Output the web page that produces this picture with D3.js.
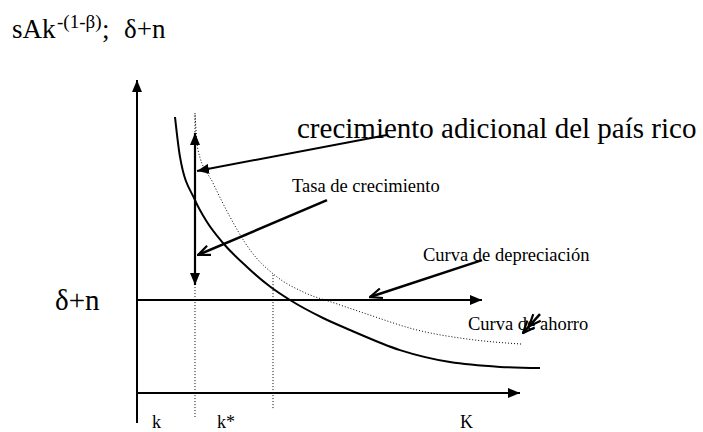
<!DOCTYPE html>
<html>
<head>
<meta charset="utf-8">
<script src="https://cdn.jsdelivr.net/npm/d3@7"></script>
<style>
  body { margin: 0; background: #fff; }
  svg, text, tspan { font-family: "Liberation Serif", "Times New Roman", "DejaVu Serif", serif; fill: #000; }
</style>
</head>
<body>
<svg width="703" height="432"></svg>
<script>
// savings curve sAk^-(1-b) of the poor country (solid)
let savingsK = [9.5, 10.75, 14.5, 17.5, 21.5, 27.5, 33.25, 38.25, 46.5, 53.25, 65.75, 78.25, 90.75, 100.75];
let savingsY = [92, 78.7, 64.3, 57, 50, 42, 35.5, 31, 25, 21, 14.3, 10.3, 8.7, 8.3];
// savings curve of the rich country (dotted)
let richK = [14.5, 15.25, 19, 23.25, 28.25, 35, 41.5, 50, 57.5, 70, 82.5, 96.25];
let richY = [92.7, 81, 70, 58.7, 47.7, 38.7, 33.7, 29.7, 26.3, 21, 18, 16.3];
// depreciation line and reference capital levels
let deltaN = 31;
let kPoor = 14.5, kStar = 34;
// annotation arrows [x1, y1, x2, y2] (tail -> tip)
let arrowRich = [62.5, 86, 15, 74];
let arrowRate = [47.5, 64.3, 15.25, 46];
let arrowDep = [86.25, 44.3, 58.25, 32];
let arrowSav = [100.75, 26.3, 96.5, 20];

let svg = d3.select("svg");

let x = d3.scaleLinear().domain([0, 100]).range([137, 537]);
let y = d3.scaleLinear().domain([0, 100]).range([393, 93]);

let defs = svg.append("defs");
defs.append("marker")
    .attr("id", "head")
    .attr("viewBox", "0 0 12 10")
    .attr("refX", 12).attr("refY", 5)
    .attr("markerWidth", 12).attr("markerHeight", 10)
    .attr("markerUnits", "userSpaceOnUse")
    .attr("orient", "auto-start-reverse")
  .append("path")
    .attr("d", "M0,0L12,5L0,10Z")
    .attr("fill", "#000");
defs.append("marker")
    .attr("id", "open")
    .attr("viewBox", "-1 -1 14 12")
    .attr("refX", 12).attr("refY", 5)
    .attr("markerWidth", 14).attr("markerHeight", 12)
    .attr("markerUnits", "userSpaceOnUse")
    .attr("orient", "auto")
  .append("path")
    .attr("d", "M0,0L12,5L0,10")
    .attr("fill", "none")
    .attr("stroke", "#000")
    .attr("stroke-width", 2.2);

function line(x1, y1, x2, y2) {
    return svg.append("line")
        .attr("x1", x(x1)).attr("y1", y(y1))
        .attr("x2", x(x2)).attr("y2", y(y2))
        .attr("stroke", "#000");
}

// guides
line(kPoor, 93.3, kPoor, -8).attr("stroke-width", 1).attr("stroke-dasharray", "1,2");
line(kStar, 39.3, kStar, -5.3).attr("stroke-width", 1).attr("stroke-dasharray", "1,2");

// axes
line(0, -10, 0, 104.3).attr("stroke-width", 2).attr("marker-end", "url(#head)");
line(0, 0, 95.75, 0).attr("stroke-width", 2).attr("marker-end", "url(#head)");
line(0, deltaN, 86.25, deltaN).attr("stroke-width", 2).attr("marker-end", "url(#head)");

// curves
let curve = d3.line()
    .x(d => x(d[0]))
    .y(d => y(d[1]))
    .curve(d3.curveMonotoneX);

svg.append("path")
    .datum(savingsK.map((k, i) => [k, savingsY[i]]))
    .attr("d", curve)
    .attr("fill", "none")
    .attr("stroke", "#000")
    .attr("stroke-width", 2);

svg.append("path")
    .datum(richK.map((k, i) => [k, richY[i]]))
    .attr("d", curve)
    .attr("fill", "none")
    .attr("stroke", "#000")
    .attr("stroke-width", 1)
    .attr("stroke-dasharray", "1,2");

// growth rate double arrow
line(kPoor, 86.7, kPoor, 36).attr("stroke-width", 2.2)
    .attr("marker-start", "url(#head)")
    .attr("marker-end", "url(#head)");

// annotation arrows
line(...arrowRich).attr("stroke-width", 2).attr("marker-end", "url(#head)");
line(...arrowRate).attr("stroke-width", 2.5).attr("marker-end", "url(#open)");
line(...arrowDep).attr("stroke-width", 2.5).attr("marker-end", "url(#open)");
line(...arrowSav).attr("stroke-width", 2.5).attr("marker-end", "url(#open)");
// second chevron of the small arrow
let t = 0.35;
line(arrowSav[0], arrowSav[1],
     arrowSav[2] + (arrowSav[0] - arrowSav[2]) * t,
     arrowSav[3] + (arrowSav[1] - arrowSav[3]) * t)
    .attr("stroke-width", 0).attr("marker-end", "url(#open)");

// labels
function label(px, py, txt, size) {
    return svg.append("text")
        .attr("x", px).attr("y", py)
        .attr("font-family", "Liberation Serif")
        .attr("font-size", size)
        .text(txt);
}

let title = svg.append("text").attr("x", 12).attr("y", 38)
    .attr("font-family", "Liberation Serif").attr("font-size", 27);
title.append("tspan").text("sAk");
title.append("tspan").attr("x", 57).attr("y", 28).attr("font-size", 19).text("-(1-β)");
title.append("tspan").attr("x", 102).attr("y", 38).text(";");
title.append("tspan").attr("x", 124).attr("y", 38).text("δ+n");

label(55, 310, "δ+n", 29);
label(x(40), y(85), "crecimiento adicional del país rico", 29);
label(x(38.75), y(67), "Tasa de crecimiento", 18.5);
label(x(71.5), y(44), "Curva de depreciación", 18.5);
label(x(82.75), y(21), "Curva de ahorro", 18.5);
label(x(3.75), 428, "k", 18);
label(x(20), 428, "k*", 18);
label(x(80.75), 428, "K", 18);
</script>
</body>
</html>
